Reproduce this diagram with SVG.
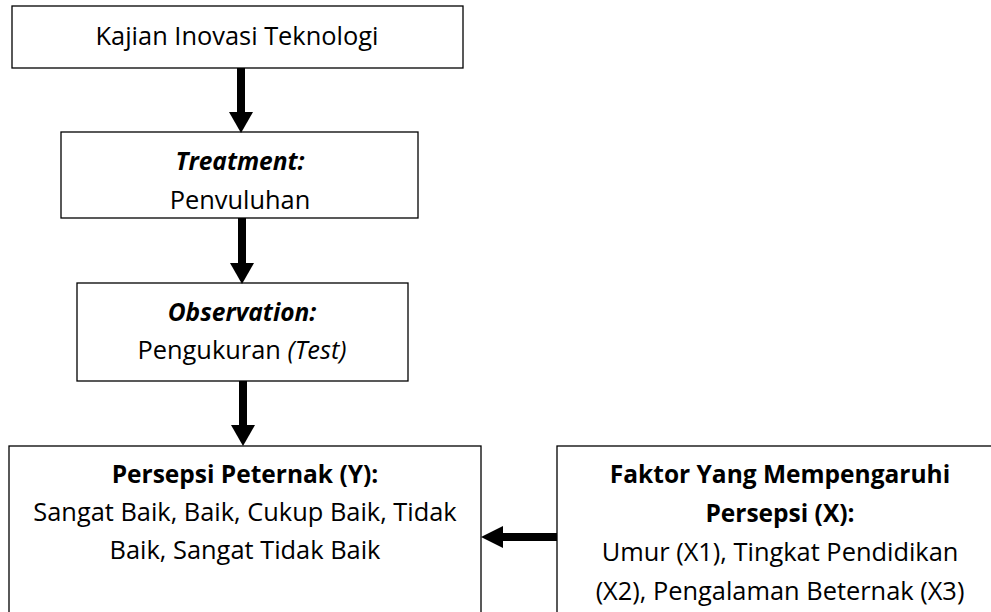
<svg xmlns="http://www.w3.org/2000/svg" width="991" height="612" viewBox="0 0 991 612">
<style>
.box{fill:#fff;stroke:#000;stroke-width:1.3}
text{font-family:"Open Sans","Liberation Sans",sans-serif;font-size:25.4px;fill:#000;text-anchor:middle}
.b{font-weight:bold;font-size:24.5px}
.bi{font-weight:bold;font-style:italic;font-size:24.5px}
.i{font-style:italic}
.shaft{stroke:#000;stroke-width:8;fill:none}
.head{fill:#000}
</style>
<g id="n1">
<rect class="box" x="12" y="6" width="451" height="62"/>
<text x="237" y="45">Kajian Inovasi Teknologi</text>
</g>
<g id="n2">
<rect class="box" x="61" y="132" width="357" height="86"/>
<text class="bi" x="240" y="170">Treatment:</text>
<text x="240" y="209">Penvuluhan</text>
</g>
<g id="n3">
<rect class="box" x="77" y="283" width="331" height="98"/>
<text class="bi" x="242" y="321">Observation:</text>
<text x="242" y="359">Pengukuran <tspan class="i">(Test)</tspan></text>
</g>
<g id="n4">
<rect class="box" x="9" y="446" width="472" height="180"/>
<text class="b" x="245" y="483">Persepsi Peternak (Y):</text>
<text x="245" y="521">Sangat Baik, Baik, Cukup Baik, Tidak</text>
<text x="245" y="559">Baik, Sangat Tidak Baik</text>
</g>
<g id="n5">
<rect class="box" x="557" y="446" width="446" height="180"/>
<text class="b" x="780" y="483">Faktor Yang Mempengaruhi</text>
<text class="b" x="780" y="522">Persepsi (X):</text>
<text x="780" y="561">Umur (X1), Tingkat Pendidikan</text>
<text x="780" y="600">(X2), Pengalaman Beternak (X3)</text>
</g>
<g id="connectors">
<line class="shaft" x1="241" y1="68" x2="241" y2="113"/>
<polygon class="head" points="229,112 253,112 241,133"/>
<line class="shaft" x1="242" y1="218" x2="242" y2="264"/>
<polygon class="head" points="230,263 254,263 242,284"/>
<line class="shaft" x1="243" y1="381" x2="243" y2="426"/>
<polygon class="head" points="231,425 255,425 243,446"/>
<line class="shaft" x1="557" y1="537" x2="502" y2="537"/>
<polygon class="head" points="503,526 503,548 481,537"/>
</g>
</svg>
